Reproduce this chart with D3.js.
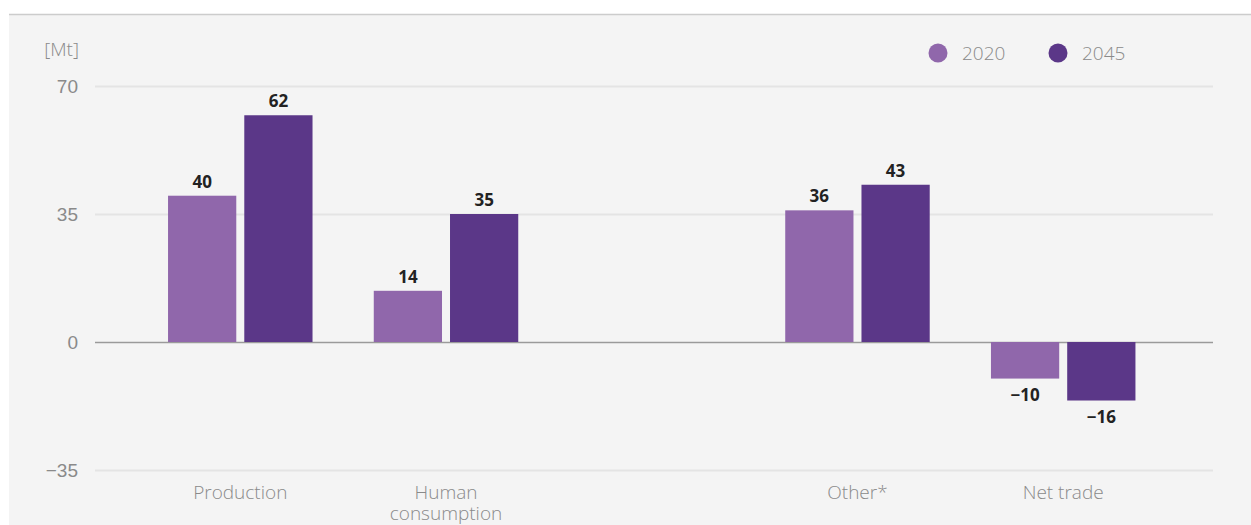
<!DOCTYPE html>
<html>
<head>
<meta charset="utf-8">
<script src="https://cdn.jsdelivr.net/npm/d3@7"></script>
<style>
  body { margin: 0; background: #fff; }
  svg { display: block; font-family: "Open Sans", sans-serif; }
</style>
</head>
<body>
<div class="chart"></div>
<script>
// data
let categories = ["Production", "Human consumption", "", "Other*", "Net trade"];
let series = ["2020", "2045"];
let values2020 = [40, 14, null, 36, -10];
let values2045 = [62, 35, null, 43, -16];
let yTicks = [-35, 0, 35, 70];
let colors = ["#9067ab", "#5b3788"];

let W = 1251, H = 525;
let margin = { top: 86, right: 38, bottom: 55, left: 95 };

let svg = d3.select(".chart").append("svg").attr("width", W).attr("height", H);

// panel background + top border
svg.append("rect").attr("x", 9).attr("y", 14).attr("width", W - 9).attr("height", H - 14).style("fill", "#f4f4f4");
svg.append("line").attr("x1", 9).attr("x2", W).attr("y1", 14.5).attr("y2", 14.5)
  .style("stroke", "#cccccc").style("stroke-width", 1.5);

let x0 = margin.left, x1 = W - margin.right;
let yScale = d3.scaleLinear().domain([-35, 70]).range([470, 86]);

let xScale = d3.scaleBand().domain(categories.map((d, i) => i))
  .range([x0, x1]).paddingInner(0.2977).paddingOuter(0.366).align(0.485);
let xSub = d3.scaleBand().domain(series).range([0, xScale.bandwidth()]).paddingInner(0.105);

let labelFont = "19px";

// gridlines
let yAxis = d3.axisLeft(yScale).tickValues(yTicks).tickSize(0).tickPadding(0)
  .tickFormat((d) => (d < 0 ? "\u2212" + Math.abs(d) : d));
let gy = svg.append("g").attr("transform", `translate(${x0}, 0)`).call(yAxis);
gy.select(".domain").remove();
gy.selectAll("text").attr("x", -17).style("font-size", labelFont).style("fill", "#8a8a8a").style("font-weight", 300);
gy.selectAll(".tick").append("line").attr("x1", 0).attr("x2", x1 - x0)
  .style("stroke", (d) => (d === 0 ? "#9a9a9a" : "#e4e4e4"))
  .style("stroke-width", (d) => (d === 0 ? 1.5 : 2));

svg.append("text").attr("x", 79).attr("y", 56).attr("text-anchor", "end")
  .style("font-size", labelFont).style("fill", "#8a8a8a").style("font-weight", 300).text("[Mt]");

// bars
let rows = [];
categories.forEach((c, i) => {
  [values2020[i], values2045[i]].forEach((v, j) => {
    if (v !== null) rows.push({ i: i, s: series[j], v: v, color: colors[j] });
  });
});

svg.selectAll("rect.bar").data(rows).enter().append("rect").attr("class", "bar")
  .attr("x", (d) => xScale(d.i) + xSub(d.s))
  .attr("y", (d) => yScale(Math.max(0, d.v)))
  .attr("width", xSub.bandwidth())
  .attr("height", (d) => Math.abs(yScale(d.v) - yScale(0)))
  .style("fill", (d) => d.color);

svg.selectAll("text.val").data(rows).enter().append("text").attr("class", "val")
  .attr("x", (d) => xScale(d.i) + xSub(d.s) + xSub.bandwidth() / 2)
  .attr("y", (d) => (d.v >= 0 ? yScale(d.v) - 8 : yScale(d.v) + 22))
  .attr("text-anchor", "middle")
  .style("font-size", "17px").style("font-weight", 700).style("fill", "#222")
  .text((d) => (d.v < 0 ? "\u2212" + Math.abs(d.v) : d.v));

// x labels
categories.forEach((c, i) => {
  let words = c === "Human consumption" ? ["Human", "consumption"] : [c];
  let t = svg.append("text").attr("text-anchor", "middle")
    .attr("x", xScale(i) + xScale.bandwidth() / 2).attr("y", 499)
    .style("font-size", labelFont).style("fill", "#8a8a8a").style("font-weight", 300);
  words.forEach((w, k) => {
    t.append("tspan").attr("x", xScale(i) + xScale.bandwidth() / 2).attr("dy", k ? 21 : 0).text(w);
  });
});

// legend
let legend = svg.append("g").selectAll("g").data(series).enter().append("g")
  .attr("transform", (d, i) => `translate(${938 + i * 120}, 53)`);
legend.append("circle").attr("r", 9.5).style("fill", (d, i) => colors[i]);
legend.append("text").attr("x", 24).attr("y", 7).style("font-size", labelFont)
  .style("fill", "#8a8a8a").style("font-weight", 300).text((d) => d);
</script>
</body>
</html>
